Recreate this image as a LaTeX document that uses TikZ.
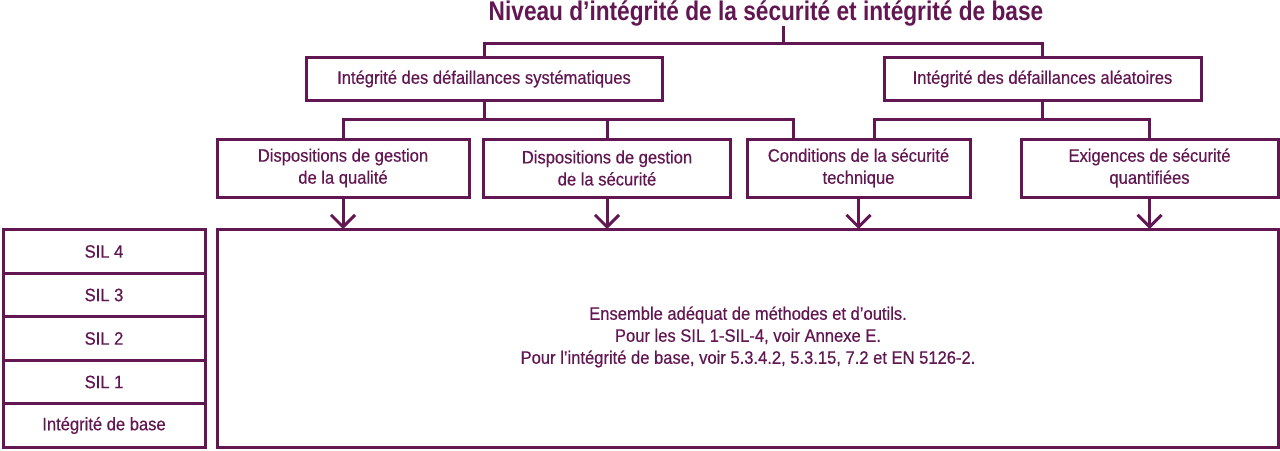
\documentclass[tikz,border=0pt]{standalone}
\usepackage{fontspec}
\setmainfont{Liberation Sans}[FakeStretch=0.92,FakeBold=0.4]
\newfontfamily\titlefont{Liberation Sans}[FakeStretch=0.84]
\usetikzlibrary{positioning,arrows.meta}
\definecolor{silpurple}{RGB}{98,22,82}

\tikzset{
  box/.style={draw=silpurple, line width=3pt, fill=white, text=silpurple,
    font=\fontsize{18}{22}\selectfont, align=center, inner sep=0pt, outer sep=0pt},
  link/.style={draw=silpurple, line width=3pt},
  arr/.style={link, -{Straight Barb[length=12pt,width=24pt,line width=3pt]}}
}

\begin{document}
\begin{tikzpicture}[x=1pt,y=-1pt]
  \useasboundingbox (0,0) rectangle (1280,450);
  % title
  \node[text=silpurple, font=\titlefont\fontsize{27}{30}\bfseries\selectfont, inner sep=0pt] (title) at (766,13)
    {Niveau d’intégrité de la sécurité et intégrité de base};
  % level 1
  \node[box, minimum width=356pt, minimum height=43pt] (sys) at (484,79)
    {Intégrité des défaillances systématiques};
  \node[box, minimum width=317pt, minimum height=43pt] (ale) at (1042.5,79)
    {Intégrité des défaillances aléatoires};
  % level 2
  \node[box, minimum width=252pt, minimum height=58pt] (qual) at (343,168)
    {Dispositions de gestion\\de la qualité};
  \node[box, minimum width=247pt, minimum height=58pt] (sec) at (607,168)
    {Dispositions de gestion\\de la sécurité};
  \node[box, minimum width=223pt, minimum height=58pt] (tech) at (858.5,168)
    {Conditions de la sécurité\\technique};
  \node[box, minimum width=257pt, minimum height=58pt] (quant) at (1149.5,168)
    {Exigences de sécurité\\quantifiées};
  % methods
  \node[box, minimum width=1061pt, minimum height=218pt] (ens) at (747.5,338) {};
  \node[text=silpurple, font=\fontsize{18}{22}\selectfont, align=center] (enstxt) at (748,337)
    {Ensemble adéquat de méthodes et d’outils.\\Pour les SIL 1-SIL-4, voir Annexe E.\\Pour l’intégrité de base, voir 5.3.4.2, 5.3.15, 7.2 et EN 5126-2.};
  % SIL stack
  \node[box, minimum width=202pt, minimum height=43.5pt] (sil4) at (104,251.5) {SIL 4};
  \node[box, minimum width=202pt, minimum height=43.5pt, below=0pt of sil4] (sil3) {SIL 3};
  \node[box, minimum width=202pt, minimum height=43.5pt, below=0pt of sil3] (sil2) {SIL 2};
  \node[box, minimum width=202pt, minimum height=43.5pt, below=0pt of sil2] (sil1) {SIL 1};
  \node[box, minimum width=202pt, minimum height=43.5pt, below=0pt of sil1] (base) {Intégrité de base};

  % connectors
  \coordinate (jtop) at (783,43);
  \coordinate (jsys) at (484,119);
  \coordinate (jale) at (1042.5,119);
  \coordinate (techL) at (793,119);
  \coordinate (techR) at (874,119);
  \draw[link] (title.south -| jtop) -- (jtop);
  \draw[link] (sys.north) |- (jtop) -| (ale.north);
  \draw[link] (sys.south) -- (jsys);
  \draw[link] (qual.north) |- (techL) -- (techL |- tech.north);
  \draw[link] (sec.north) -- (sec.north |- jsys);
  \draw[link] (ale.south) -- (jale);
  \draw[link] (techR |- tech.north) -- (techR) -| (quant.north);
  \foreach \n in {qual,sec,tech,quant}
    \draw[arr] (\n.south) -- (\n.south |- ens.north);
\end{tikzpicture}
\end{document}
